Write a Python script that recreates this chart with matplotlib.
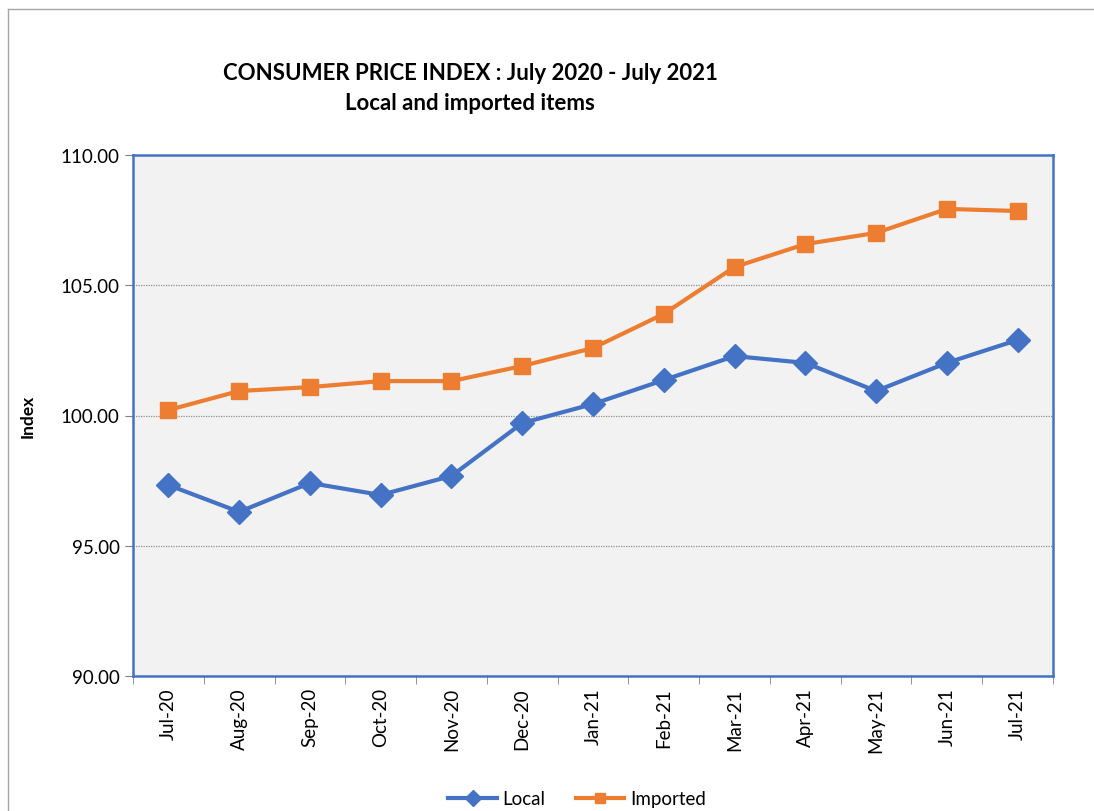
import matplotlib
matplotlib.use("Agg")
import matplotlib.pyplot as plt
from matplotlib.lines import Line2D

plt.rcParams['font.family'] = ['Lato', 'DejaVu Sans']

months = ["Jul-20", "Aug-20", "Sep-20", "Oct-20", "Nov-20", "Dec-20", "Jan-21",
          "Feb-21", "Mar-21", "Apr-21", "May-21", "Jun-21", "Jul-21"]
local = [97.33, 96.30, 97.41, 96.95, 97.68, 99.71, 100.44,
         101.36, 102.28, 102.02, 100.94, 102.02, 102.90]
imported = [100.21, 100.94, 101.09, 101.32, 101.32, 101.90, 102.59,
            103.90, 105.70, 106.58, 107.01, 107.93, 107.85]
yticks = [90, 95, 100, 105, 110]

blue = "#4472C4"
orange = "#ED7D31"

fig = plt.figure(figsize=(10.94, 8.12), dpi=100)
ax = fig.add_axes([133/1094, 1 - 677/812, 920/1094, 521/812])
ax.set_facecolor("#F2F2F2")

x = list(range(len(months)))
ax.plot(x, local, color=blue, lw=3, marker="D", ms=12, label="Local")
ax.plot(x, imported, color=orange, lw=3, marker="s", ms=12, label="Imported")

ax.set_xlim(-0.5, len(months) - 0.5)
ax.set_ylim(90, 110)
ax.set_yticks(yticks)
ax.set_yticklabels([f"{v:.2f}" for v in yticks], fontsize=13.5)
ax.set_xticks(x)
ax.set_xticklabels(months, rotation=90, fontsize=13.5)
ax.tick_params(axis="x", length=0, pad=8)
ax.set_xticks([i - 0.5 for i in range(len(months) + 1)], minor=True)
ax.tick_params(axis="x", which="minor", length=6, color="#808080")
ax.tick_params(axis="y", length=6, color="#808080")
ax.grid(axis="y", ls=(0, (1, 1)), color="#909090", lw=0.9)
for s in ax.spines.values():
    s.set_color(blue)
    s.set_linewidth(1.8)

ax.set_ylabel("Index", fontsize=12.5, fontweight="bold", labelpad=18)

fig.text(470/1094, 1 - 74/812, "CONSUMER PRICE INDEX : July 2020 - July 2021",
         ha="center", va="center", fontsize=16, fontweight="bold")
fig.text(470/1094, 1 - 104/812, "Local and imported items",
         ha="center", va="center", fontsize=16, fontweight="bold")

ax.legend(loc="center", bbox_to_anchor=(577/1094, 1 - 800/812),
          bbox_transform=fig.transFigure, ncol=2, frameon=False,
          fontsize=13.5, handlelength=2.6, columnspacing=1.6, handletextpad=0.3,
          markerscale=0.65)

fig.add_artist(Line2D([8/1094, 1], [1 - 10/812, 1 - 10/812],
                      transform=fig.transFigure, color="#A6A6A6", lw=1))
fig.add_artist(Line2D([8/1094, 8/1094], [0, 1 - 10/812],
                      transform=fig.transFigure, color="#A6A6A6", lw=1))

fig.savefig("out.png", dpi=100)
